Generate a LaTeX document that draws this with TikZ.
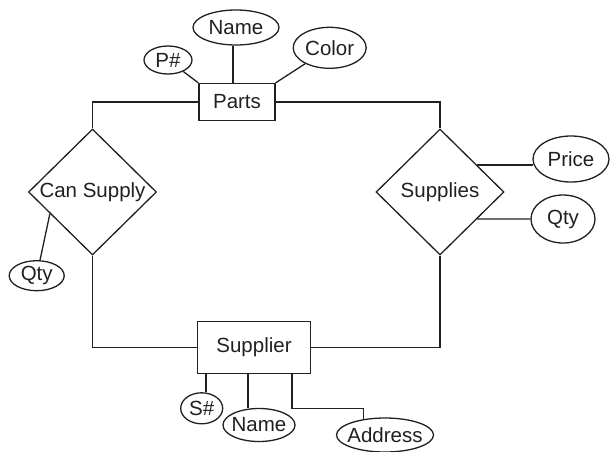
\documentclass[tikz,border=0pt]{standalone}
\usepackage{fontspec}
\setmainfont{Liberation Sans}
\usepackage{tikz}
\usetikzlibrary{shapes.geometric}
\definecolor{inkcolor}{HTML}{231F20}

\begin{document}
\begin{tikzpicture}[
    x=1pt, y=-1pt,
    line width=1.3pt,
    color=inkcolor,
    every node/.style={font=\fontsize{20.5}{24}\selectfont},
    entity/.style={rectangle, draw, inner sep=0pt},
    relation/.style={diamond, draw, inner sep=0pt,
                     minimum width=128pt, minimum height=126pt},
    attr/.style={ellipse, draw, inner xsep=-6pt, inner ysep=0pt}
]
\useasboundingbox (0,0) rectangle (613,451);

% entities
\node (parts) [entity, minimum width=76pt, minimum height=37pt] at (237,102) {Parts};
\node (supplier) [entity, minimum width=113pt, minimum height=52pt] at (254,347.5) {Supplier};

% relationships
\node (cansupply) [relation] at (92.5,192) {Can Supply};
\node (supplies) [relation] at (440,192) {Supplies};

% attributes
\node (pnum) [attr, minimum width=48pt, minimum height=28pt] at (168,60) {P\#};
\node (pname) [attr, minimum width=86pt, minimum height=35pt] at (236,27.5) {Name};
\node (color) [attr, minimum width=73pt, minimum height=41pt] at (329.7,47.8) {Color};
\node (qtyL) [attr, minimum width=55pt, minimum height=30pt] at (36.7,275.7) {Qty};
\node (price) [attr, minimum width=76pt, minimum height=46pt] at (571,159) {Price};
\node (qtyR) [attr, minimum width=64pt, minimum height=48pt] at (563,219) {Qty};
\node (snum) [attr, minimum width=42pt, minimum height=31pt] at (201.7,408.3) {S\#};
\node (sname) [attr, minimum width=72pt, minimum height=33pt] at (259,425) {Name};
\node (address) [attr, minimum width=97pt, minimum height=34pt] at (385,435) {Address};

\draw (pnum) -- (parts.north west);
\draw ([xshift=-3pt]pname.south) -- ([xshift=-3pt]pname.south |- parts.north);
\draw (color) -- (parts.north east);
\draw (parts.west) -| (cansupply.north);
\draw (parts.east) -| (supplies.north);
\draw (qtyL) -- (cansupply.207);
\draw (supplies.36) -- (price.188 |- supplies.36);
\draw (supplies.324) -- (qtyR.west);
\draw (cansupply.south) |- (supplier.west);
\draw (supplies.south) |- (supplier.east);
\draw ([xshift=-48pt]supplier.south) -- ([xshift=-48pt]supplier.south |- snum.north);
\draw ([xshift=-6pt]supplier.south) -- ([xshift=-6pt]supplier.south |- sname.north);
\draw ([xshift=38pt]supplier.south) -- ++(0,34) -| (address.144);
\end{tikzpicture}
\end{document}
